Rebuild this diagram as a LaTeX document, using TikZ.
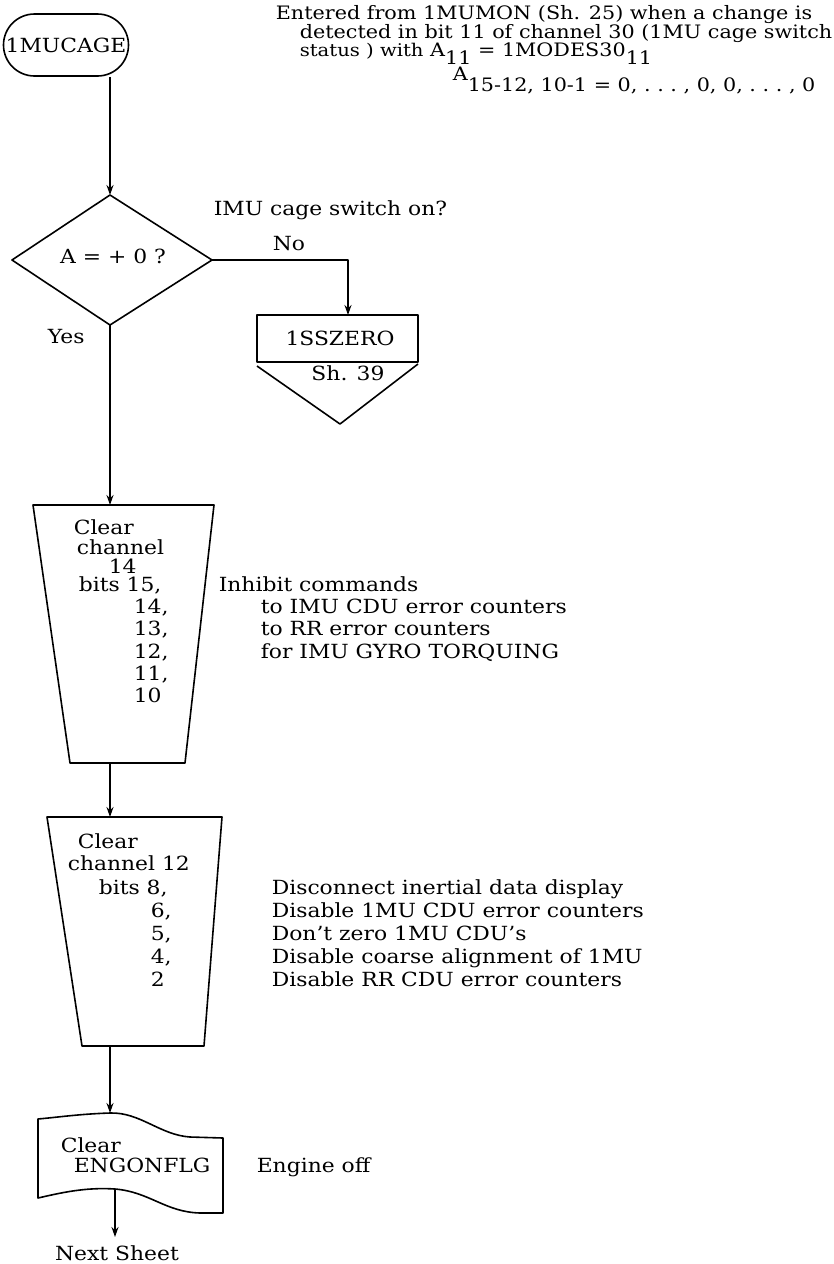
\documentclass[tikz,border=0pt]{standalone}
\usepackage{fontspec}
\setmainfont[FakeStretch=1.12]{DejaVu Serif}
\usetikzlibrary{arrows.meta,shapes.misc}
\newcommand\dfont{\fontsize{19.5}{22}\selectfont}
\newcommand\nfont{\fontsize{18.5}{19}\selectfont}
\newcommand\low[1]{\raisebox{-8pt}{#1}}
\begin{document}
\begin{tikzpicture}[x=1pt,y=-1pt,
  line width=1.6pt, line join=round,
  txt/.style={inner sep=0pt, anchor=base west, font=\dfont},
  ntxt/.style={inner sep=0pt, anchor=base west, font=\nfont},
  ctxt/.style={inner sep=0pt, anchor=base, font=\dfont},
  flow/.style={-{Stealth[length=10pt,width=7pt]}},
  terminal/.style={rounded rectangle, draw, minimum width=125pt, minimum height=62pt, inner sep=0pt, font=\dfont}]
\useasboundingbox (0,0) rectangle (834,1264);

% entry terminal and its note
\node[terminal] (term) at (66,45) {1MUCAGE};
\node[ntxt] (n1) at (275,19) {Entered from 1MUMON (Sh. 25) when a change is};
\node[ntxt] (n2) at (299,38) {detected in bit 11 of channel 30 (1MU cage switch};
\node[ntxt] (n3) at (299,56) {{\fontsize{17.5}{17}\selectfont status ) with} A\low{11} = 1MODES30\low{11}};
\node[ntxt] (n4) at (452,80) {A\raisebox{-11pt}{15-12, 10-1 = 0, .\ .\ .\ , 0, 0, .\ .\ .\ , 0}};

% decision
\coordinate (dtop) at (110,195);
\coordinate (dright) at (212,260);
\coordinate (dbot) at (110,325);
\coordinate (dleft) at (12,260);
\draw (dtop) -- (dright) -- (dbot) -- (dleft) -- cycle;
\node[ctxt] (dq) at (113,263) {A = + 0 ?};
\node[txt] (dlabel) at (213,215) {IMU cage switch on?};
\node[txt] (no) at (272,250) {No};
\node[txt] (yes) at (47,343) {Yes};

% exit to sheet 39
\draw (257,315) rectangle (418,362);
\coordinate (ssin) at (348,315);
\node[ctxt] (ss) at (340,345) {1SSZERO};
\draw (257,366) -- (340,424) -- (418,364);
\node[ctxt] (sh) at (348,380) {Sh. 39};

% first output box: channel 14
\coordinate (c14in) at (110,505);
\coordinate (c14out) at (110,763);
\draw (33,505) -- (214,505) -- (185,763) -- (70,763) -- cycle;
\node[txt] (a1) at (73,534) {Clear};
\node[txt] (a2) at (76,554) {channel};
\node[txt] (a3) at (108,573) {14};
\node[txt] (a4) at (78,591) {bits 15,};
\node[txt] (a5) at (133,613) {14,};
\node[txt] (a6) at (133,635) {13,};
\node[txt] (a7) at (133,658) {12,};
\node[txt] (a8) at (133,680) {11,};
\node[txt] (a9) at (133,702) {10};
\node[txt] (b1) at (218,591) {Inhibit commands};
\node[txt] (b2) at (260,613) {to IMU CDU error counters};
\node[txt] (b3) at (260,635) {to RR error counters};
\node[txt] (b4) at (260,658) {for IMU GYRO TORQUING};

% second output box: channel 12
\coordinate (c12in) at (110,817);
\coordinate (c12out) at (110,1046);
\draw (47,817) -- (222,817) -- (204,1046) -- (82,1046) -- cycle;
\node[txt] (e1) at (77,848) {Clear};
\node[txt] (e2) at (67,870) {channel 12};
\node[txt] (e3) at (98,894) {bits 8,};
\node[txt] (e4) at (150,917) {6,};
\node[txt] (e5) at (150,940) {5,};
\node[txt] (e6) at (150,963) {4,};
\node[txt] (e7) at (150,986) {2};
\node[txt] (f1) at (271,894) {Disconnect inertial data display};
\node[txt] (f2) at (271,917) {Disable 1MU CDU error counters};
\node[txt] (f3) at (271,940) {Don't zero 1MU CDU's};
\node[txt] (f4) at (271,963) {Disable coarse alignment of 1MU};
\node[txt] (f5) at (271,986) {Disable RR CDU error counters};

% flag clearing (document shape)
\coordinate (engin) at (110,1113);
\coordinate (engout) at (115,1189);
\draw (38,1119) -- (38,1198)
  .. controls (60,1193) and (85,1187) .. (engout)
  .. controls (150,1192) and (165,1212) .. (200,1213) -- (223,1213)
  -- (223,1138) -- (190,1137)
  .. controls (160,1135) and (140,1112) .. (engin)
  .. controls (80,1114) and (60,1117) .. cycle;
\node[txt] (g1) at (60,1152) {Clear};
\node[txt] (g2) at (73,1172) {ENGONFLG};
\node[txt] (g3) at (256,1172) {Engine off};
\node[ctxt] (next) at (117,1260) {Next Sheet};

% connectors
\draw[flow] (term.south -| dtop) -- (dtop);
\draw[flow] (dright) -- (dright -| ssin) -- (ssin);
\draw[flow] (dbot) -- (c14in);
\draw[flow] (c14out) -- (c12in);
\draw[flow] (c12out) -- (engin);
\draw[flow] (engout) -- ++(0,48);
\end{tikzpicture}
\end{document}
